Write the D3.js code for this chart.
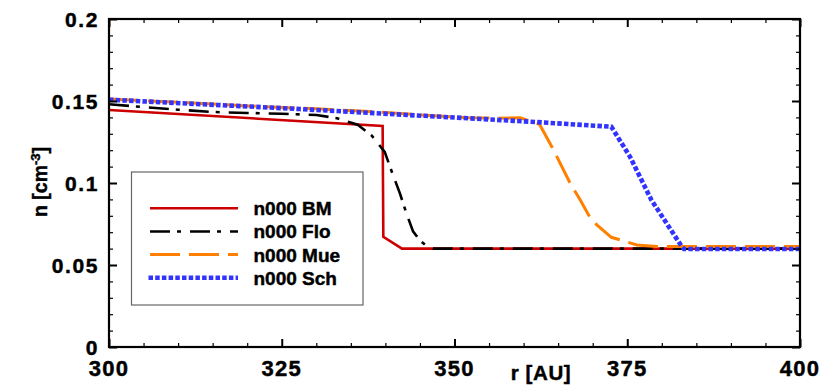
<!DOCTYPE html>
<html><head><meta charset="utf-8">
<script src="https://cdn.jsdelivr.net/npm/d3@7"></script>
<style>body{margin:0;background:#fff}svg{display:block}text{font-family:"Liberation Sans",Arial,Helvetica,sans-serif;font-weight:bold;stroke:#000;stroke-width:0.45px}</style>
</head><body>
<svg id="c" width="830" height="392"></svg>
<script>
// Data
const seriesNames = ["n000 BM", "n000 Flo", "n000 Mue", "n000 Sch"];
const bmR  = [300, 339.6, 339.7, 342.4, 400];
const bmN  = [0.1445, 0.1348, 0.0672, 0.0600, 0.0600];
const floR = [300, 305, 310, 315, 320, 325, 330, 333, 336, 338, 339.9, 341, 342.1, 343, 344, 345, 346, 347, 400];
const floN = [0.148, 0.1463, 0.1447, 0.1433, 0.1427, 0.1422, 0.1415, 0.1395, 0.1355, 0.129, 0.119, 0.106, 0.0937, 0.082, 0.0705, 0.065, 0.0615, 0.0600, 0.0600];
const mueR = [300, 312, 320, 330, 337, 345, 352, 356, 359.5, 362.3, 364.1, 366.7, 368.2, 369.4, 370.6, 372.7, 376.4, 379.3, 400];
const mueN = [0.1512, 0.1488, 0.147, 0.1452, 0.1438, 0.1415, 0.1398, 0.1395, 0.1398, 0.1358, 0.122, 0.1002, 0.0896, 0.0805, 0.0744, 0.0669, 0.0622, 0.0613, 0.0613];
const schR = [300, 327.6, 360.9, 372.7, 375.4, 378.5, 382.9, 383.2, 400];
const schN = [0.1508, 0.1451, 0.1374, 0.1343, 0.116, 0.0896, 0.0612, 0.0598, 0.0598];
const xTicks = [300, 325, 350, 375, 400];
const xTickLabels = ["300", "325", "350", "375", "400"];
const yTicks = [0, 0.05, 0.1, 0.15, 0.2];
const yTickLabels = ["0", "0.05", "0.1", "0.15", "0.2"];

const L = 109, R = 800, T = 19, B = 347;
const svg = d3.select("#c");
const x = d3.scaleLinear().domain([300, 400]).range([L, R]);
const y = d3.scaleLinear().domain([0, 0.2]).range([B, T]);

const series = [
  {name: seriesNames[0], r: bmR,  n: bmN,  color: "#cc0000", w: 2.6, dash: null, cap: "butt"},
  {name: seriesNames[1], r: floR, n: floN, color: "#000000", w: 2.6, dash: "20,7,4,9", cap: "butt"},
  {name: seriesNames[2], r: mueR, n: mueN, color: "#ff8000", w: 3, dash: "30,9", cap: "butt"},
  {name: seriesNames[3], r: schR, n: schN, color: "#3333ff", w: 4.6, dash: "4.5,2.2", cap: "butt"}
];

const line = d3.line().x(d => x(d[0])).y(d => y(d[1]));
const plot = svg.append("g");
series.forEach(s => {
  const pts = s.r.map((r, i) => [r, s.n[i]]);
  plot.append("path").attr("d", line(pts)).attr("fill", "none")
    .attr("stroke", s.color).attr("stroke-width", s.w)
    .attr("stroke-dasharray", s.dash).attr("stroke-linecap", s.cap)
    .attr("stroke-linejoin", "miter");
});

// Axes with inward ticks (major + minor)
const xMinor = d3.range(300, 401, 5).filter(v => v % 25 !== 0);
const yMinor = d3.range(0, 21, 1).map(v => v / 100).filter(v => Math.round(v * 100) % 5 !== 0);
function axes() {
  const g = svg.append("g");
  const bx = d3.axisBottom(x).tickValues(xTicks).tickSize(-8).tickFormat("");
  const tx = d3.axisTop(x).tickValues(xTicks).tickSize(-8).tickFormat("");
  const ly = d3.axisLeft(y).tickValues(yTicks).tickSize(-8).tickFormat("");
  const ry = d3.axisRight(y).tickValues(yTicks).tickSize(-8).tickFormat("");
  const bxm = d3.axisBottom(x).tickValues(xMinor).tickSize(-4).tickFormat("");
  const txm = d3.axisTop(x).tickValues(xMinor).tickSize(-4).tickFormat("");
  const lym = d3.axisLeft(y).tickValues(yMinor).tickSize(-4).tickFormat("");
  const rym = d3.axisRight(y).tickValues(yMinor).tickSize(-4).tickFormat("");
  [[bx, `translate(0,${B})`, 2], [tx, `translate(0,${T})`, 2], [ly, `translate(${L},0)`, 2], [ry, `translate(${R},0)`, 2],
   [bxm, `translate(0,${B})`, 1.2], [txm, `translate(0,${T})`, 1.2], [lym, `translate(${L},0)`, 1.2], [rym, `translate(${R},0)`, 1.2]]
  .forEach(([ax, tr, w]) => {
    const a = g.append("g").attr("transform", tr).call(ax);
    a.select(".domain").remove();
    a.selectAll("line").attr("stroke", "#000").attr("stroke-width", w);
  });
  g.append("rect").attr("x", L).attr("y", T).attr("width", R - L).attr("height", B - T)
    .attr("fill", "none").attr("stroke", "#000").attr("stroke-width", 2.2);
  // labels
  g.selectAll(".xl").data(xTicks).enter().append("text")
    .attr("x", d => x(d)).attr("y", 376).attr("text-anchor", "middle")
    .attr("font-size", 22).attr("letter-spacing", 1.3)
    .text((d, i) => xTickLabels[i]);
  g.selectAll(".yl").data(yTicks).enter().append("text")
    .attr("x", 99).attr("y", d => y(d) + 7.5).attr("text-anchor", "end")
    .attr("font-size", 21).attr("letter-spacing", 1.6)
    .text((d, i) => yTickLabels[i]);
  g.append("text").attr("x", 541).attr("y", 380).attr("text-anchor", "middle")
    .attr("font-size", 20.5).attr("letter-spacing", 0.6).text("r [AU]");
  const yt = g.append("text").attr("transform", "translate(47,182) rotate(-90)")
    .attr("text-anchor", "middle").attr("font-size", 19.5);
  yt.append("tspan").text("n [cm");
  yt.append("tspan").attr("dy", -7).attr("font-size", 13).text("-3");
  yt.append("tspan").attr("dy", 7).text("]");
}
axes();

// Legend
const lg = svg.append("g");
lg.append("rect").attr("x", 131.5).attr("y", 172).attr("width", 231.5).attr("height", 133)
  .attr("fill", "#fff").attr("stroke", "#666").attr("stroke-width", 1.2);
const rowY = d3.scalePoint().domain(seriesNames).range([208.3, 277.7]);
series.forEach(s => {
  const yy = rowY(s.name);
  lg.append("line").attr("x1", s.name === seriesNames[3] ? 148.5 : 150).attr("x2", 238).attr("y1", yy).attr("y2", yy)
    .attr("stroke", s.color).attr("stroke-width", s.w).attr("stroke-dasharray", s.dash);
  lg.append("text").attr("x", 253.5).attr("y", yy + 7).attr("font-size", 19).text(s.name);
});
</script>
</body></html>
